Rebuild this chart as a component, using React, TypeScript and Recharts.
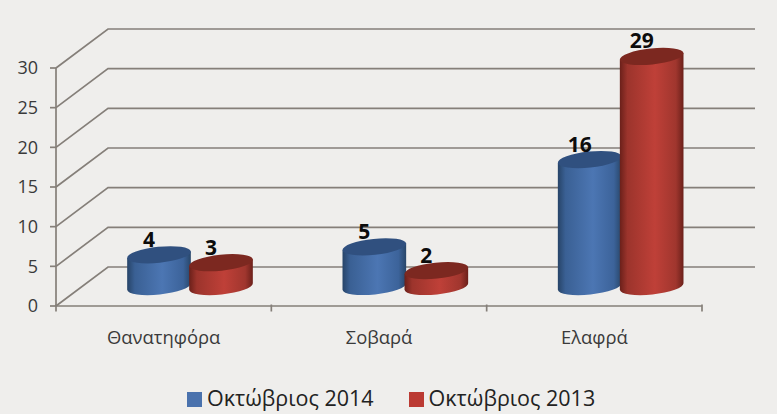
import { Bar, BarChart, CartesianGrid, LabelList, Legend, XAxis, YAxis } from "recharts";

const categories = ["Θανατηφόρα", "Σοβαρά", "Ελαφρά"];
const oct2014 = [4, 5, 16];
const oct2013 = [3, 2, 29];
const yTicks = [0, 5, 10, 15, 20, 25, 30];

const data = categories.map((name, i) => ({ name, oct2014: oct2014[i], oct2013: oct2013[i] }));

const FONT = "'Open Sans', 'Noto Sans', sans-serif";
const AXIS = "#857f79";
// depth of the fake 3d floor, back wall vs. front plane
const DEPTH_X = 52;
const DEPTH_Y = 39;
const TILT = -6;
const RY = 8;

function gridLine(props: any) {
  const { x1, x2, y1, index } = props;
  const bx = x1 + DEPTH_X;
  const by = y1 - DEPTH_Y;
  const ex = x2 + DEPTH_X + 1;
  const isFloor = Math.abs(y1 - 304.5) < 1;
  return (
    <g key={index}>
      <path d={`M${x1},${y1} L${bx},${by} L${ex},${by}`} fill="none" stroke={AXIS} strokeWidth={1.7} />
      {isFloor && <path d={`M${x2},${y1} L${ex},${by}`} fill="none" stroke={AXIS} strokeWidth={1.7} />}
    </g>
  );
}

function Cylinder(props: any) {
  const { x, y, width, height, grad, top } = props;
  const rx = width / 2;
  const cx = x + rx + DEPTH_X / 2;
  const yTop = y - DEPTH_Y / 2;
  const yBot = y + height - DEPTH_Y / 2;
  const a = (TILT * Math.PI) / 180;
  const ex = rx * Math.cos(a);
  const ey = rx * Math.sin(a);
  const body = `M${cx - ex},${yTop - ey} L${cx - ex},${yBot - ey} A${rx},${RY} ${TILT} 0 0 ${cx + ex},${yBot + ey} L${cx + ex},${yTop + ey} Z`;
  return (
    <g>
      <path d={body} fill={`url(#${grad})`} />
      <ellipse cx={cx} cy={yTop} rx={rx} ry={RY} fill={top} transform={`rotate(${TILT} ${cx} ${yTop})`} />
    </g>
  );
}

function barLabel(props: any) {
  const { x, y, width, value } = props;
  return (
    <text
      x={x + width / 2 + DEPTH_X / 2 - 10}
      y={y - DEPTH_Y / 2 - 8}
      textAnchor="middle"
      fontFamily={FONT}
      fontSize={21}
      fontWeight={700}
      fill="#0c0c0c"
    >
      {value}
    </text>
  );
}

function CategoryTick(props: any) {
  const { x, payload, index, width } = props;
  const band = width / categories.length;
  const axisY = 304.5;
  return (
    <g>
      <line x1={x - band / 2} x2={x - band / 2} y1={axisY} y2={axisY + 7} stroke={AXIS} strokeWidth={1.7} />
      {index === categories.length - 1 && (
        <line x1={x + band / 2} x2={x + band / 2} y1={axisY} y2={axisY + 7} stroke={AXIS} strokeWidth={1.7} />
      )}
      <text x={x} y={344} textAnchor="middle" fontFamily={FONT} fontSize={18.4} fill="#3a3a3a">
        {payload.value}
      </text>
    </g>
  );
}

export default function App() {
  return (
    <div style={{ position: "absolute", left: 0, top: 0, width: 777, height: 414, background: "#efeeec" }}>
      <BarChart
        width={777}
        height={414}
        data={data}
        margin={{ top: 68, right: 75, bottom: 0, left: 0 }}
        barSize={64}
        barGap={-2}
      >
        <defs>
          <linearGradient id="blueBody" x1="0" y1="0" x2="1" y2="0">
            <stop offset="0" stopColor="#274468" />
            <stop offset="0.12" stopColor="#3a6094" />
            <stop offset="0.55" stopColor="#4c76b3" />
            <stop offset="0.88" stopColor="#3c639a" />
            <stop offset="1" stopColor="#284669" />
          </linearGradient>
          <linearGradient id="redBody" x1="0" y1="0" x2="1" y2="0">
            <stop offset="0" stopColor="#6b201a" />
            <stop offset="0.12" stopColor="#9c342c" />
            <stop offset="0.55" stopColor="#bf4038" />
            <stop offset="0.88" stopColor="#a0362e" />
            <stop offset="1" stopColor="#6b201a" />
          </linearGradient>
        </defs>
        <CartesianGrid vertical={false} horizontal={gridLine} />
        <XAxis
          dataKey="name"
          height={76}
          axisLine={{ stroke: AXIS, strokeWidth: 1.7 }}
          tickLine={false}
          tick={CategoryTick}
        />
        <YAxis
          width={56}
          domain={[0, 30]}
          ticks={yTicks}
          interval={0}
          axisLine={{ stroke: AXIS, strokeWidth: 1.7 }}
          tickLine={{ stroke: AXIS, strokeWidth: 1.7 }}
          tickSize={6}
          tickMargin={12}
          tick={{ fontFamily: FONT, fontSize: 18, fill: "#3a3a3a" }}
        />
        <Legend
          verticalAlign="bottom"
          align="left"
          iconType="square"
          iconSize={15}
          itemSorter={null}
          wrapperStyle={{ position: "absolute", left: 187, bottom: 2, width: 450, height: 32 }}
          formatter={(value: string) => (
            <span
              style={{
                fontFamily: FONT,
                fontSize: 21.5,
                color: "#222",
                paddingRight: 25,
                paddingLeft: 1,
                position: "relative",
                top: 3,
              }}
            >
              {value}
            </span>
          )}
        />
        <Bar
          dataKey="oct2014"
          name="Οκτώβριος 2014"
          fill="#4a72ad"
          isAnimationActive={false}
          shape={(p: any) => <Cylinder {...p} grad="blueBody" top="#30507f" />}
        >
          <LabelList dataKey="oct2014" content={barLabel} />
        </Bar>
        <Bar
          dataKey="oct2013"
          name="Οκτώβριος 2013"
          fill="#bb3a33"
          isAnimationActive={false}
          shape={(p: any) => <Cylinder {...p} grad="redBody" top="#7c2820" />}
        >
          <LabelList dataKey="oct2013" content={barLabel} />
        </Bar>
      </BarChart>
    </div>
  );
}
